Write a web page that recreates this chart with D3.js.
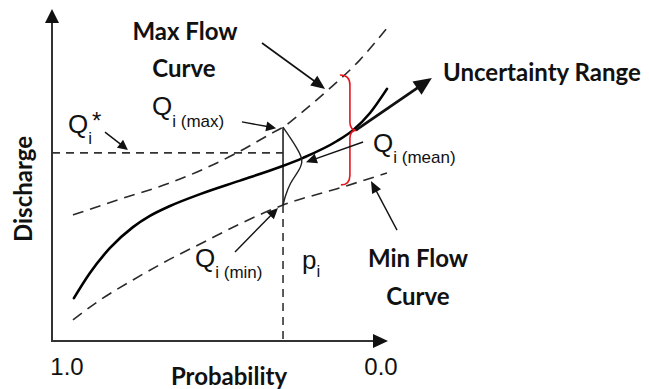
<!DOCTYPE html>
<html>
<head>
  <title>Flow Duration Uncertainty</title>
  <script src="https://d3js.org/d3.v7.min.js"></script>
  <style>
    body { margin: 0; background: #fff; }
    .bold { font-family: Lato, "Open Sans", sans-serif; font-weight: 700; fill: #111; }
    .qlab { font-family: "Liberation Sans", Arial, sans-serif; fill: #111; }
  </style>
</head>
<body>
  <div id="chart"></div>

  <script>
    // probability (1.0 on the left, 0.0 on the right) and relative discharge
    const probTicks = [1.0, 0.0];

    const meanP = [0.978, 0.927, 0.863, 0.790, 0.736, 0.672, 0.576, 0.449, 0.322, 0.248, 0.140, 0.089, 0.035, -0.019];
    const meanQ = [13.0, 20.6, 28.2, 34.5, 37.9, 40.9, 44.5, 48.6, 52.7, 55.5, 60.6, 63.9, 69.1, 76.4];

    const maxP = [0.981, 0.831, 0.672, 0.459, 0.347, 0.312, 0.258, 0.172, 0.067, -0.022];
    const maxQ = [38.2, 43.0, 47.9, 57.0, 63.0, 64.8, 68.8, 75.8, 85.2, 95.2];

    const minP = [0.981, 0.895, 0.790, 0.672, 0.576, 0.449, 0.312, 0.131, -0.019];
    const minQ = [6.4, 12.4, 18.5, 24.8, 29.4, 35.5, 41.2, 46.4, 50.9];

    // distribution of Q at p_i
    const pdfP = [0.312, 0.290, 0.258, 0.248, 0.264, 0.290, 0.306, 0.312];
    const pdfQ = [64.8, 61.8, 57.0, 54.2, 51.2, 47.9, 43.6, 41.2];

    const pI = 0.312;
    const qStar = 57.0;
    const qMax = 64.8;
    const qMin = 41.2;

    const width = 649, height = 389;

    const svg = d3.select("#chart")
      .append("svg")
      .attr("width", width)
      .attr("height", height);

    const x = d3.scaleLinear().domain([1, 0]).range([67, 381]);
    const y = d3.scaleLinear().domain([0, 100]).range([341, 11]);

    const pts = (ps, qs) => ps.map((p, i) => [x(p), y(qs[i])]);
    const line = d3.line().curve(d3.curveMonotoneX);

    function arrow(x1, y1, x2, y2, sw, len, half) {
      const a = Math.atan2(y2 - y1, x2 - x1);
      const bx = x2 - len * Math.cos(a), by = y2 - len * Math.sin(a);
      svg.append("line")
        .attr("x1", x1).attr("y1", y1).attr("x2", bx + Math.cos(a)).attr("y2", by + Math.sin(a))
        .attr("stroke", "#111").attr("stroke-width", sw);
      const px = -Math.sin(a) * half, py = Math.cos(a) * half;
      svg.append("polygon")
        .attr("points", [[x2, y2], [bx + px, by + py], [bx - px, by - py]].map(d => d.join(",")).join(" "))
        .attr("fill", "#111");
    }

    // axes
    const ox = 52, oy = y(0);
    svg.append("line").attr("x1", ox).attr("y1", oy).attr("x2", ox).attr("y2", 22)
      .attr("stroke", "#333").attr("stroke-width", 2);
    svg.append("polygon").attr("points", `${ox},9 ${ox - 7},23 ${ox + 7},23`).attr("fill", "#111");
    svg.append("line").attr("x1", ox - 1).attr("y1", oy).attr("x2", 374).attr("y2", oy)
      .attr("stroke", "#333").attr("stroke-width", 2);
    svg.append("polygon").attr("points", `388,${oy} 373,${oy - 7} 373,${oy + 7}`).attr("fill", "#111");

    svg.selectAll(".tick")
      .data(probTicks)
      .enter()
      .append("text")
      .attr("class", "qlab")
      .attr("x", d => x(d))
      .attr("y", 375)
      .attr("text-anchor", "middle")
      .style("font-size", "24px")
      .text(d => d.toFixed(1));

    svg.append("text").attr("class", "bold")
      .attr("x", 229).attr("y", 385)
      .attr("text-anchor", "middle")
      .style("font-size", "24px")
      .text("Probability");

    svg.append("text").attr("class", "bold")
      .attr("transform", "translate(32,189) rotate(-90)")
      .attr("text-anchor", "middle")
      .style("font-size", "24px")
      .text("Discharge");

    // reference lines at p_i and Q_i*
    svg.append("line")
      .attr("x1", ox).attr("x2", x(pI)).attr("y1", y(qStar)).attr("y2", y(qStar))
      .attr("stroke", "#333").attr("stroke-width", 1.6).attr("stroke-dasharray", "8,6");
    svg.append("line")
      .attr("x1", x(pI)).attr("x2", x(pI)).attr("y1", y(qMin)).attr("y2", oy)
      .attr("stroke", "#333").attr("stroke-width", 1.6).attr("stroke-dasharray", "8,6");
    svg.append("line")
      .attr("x1", x(pI)).attr("x2", x(pI)).attr("y1", y(qMax)).attr("y2", y(qMin))
      .attr("stroke", "#222").attr("stroke-width", 1.6);

    // curves
    svg.append("path").attr("d", line(pts(maxP, maxQ)))
      .attr("fill", "none").attr("stroke", "#2a2a2a").attr("stroke-width", 1.6).attr("stroke-dasharray", "11,7");
    svg.append("path").attr("d", line(pts(minP, minQ)))
      .attr("fill", "none").attr("stroke", "#2a2a2a").attr("stroke-width", 1.6).attr("stroke-dasharray", "11,7");
    svg.append("path").attr("d", line(pts(meanP, meanQ)))
      .attr("fill", "none").attr("stroke", "#000").attr("stroke-width", 2.6).attr("stroke-linecap", "round");
    svg.append("path").attr("d", d3.line().curve(d3.curveBasis)(pts(pdfP, pdfQ)))
      .attr("fill", "none").attr("stroke", "#222").attr("stroke-width", 1.4);

    // uncertainty brace
    const bx = x(0.099), bTop = y(80.6), bBot = y(47.3), bMid = y(63.9), bTip = x(0.076);
    svg.append("path")
      .attr("d", `M${bx - 10},${bTop} Q${bx},${bTop} ${bx},${bTop + 10} L${bx},${bMid - 8}
        Q${bx},${bMid} ${bTip},${bMid} Q${bx},${bMid} ${bx},${bMid + 8}
        L${bx},${bBot - 10} Q${bx},${bBot} ${bx - 9},${bBot}`)
      .attr("fill", "none").attr("stroke", "#e8141c").attr("stroke-width", 1.6);

    // annotation arrows
    arrow(x(0.379), y(90.3), x(0.178), y(76.4), 1.6, 14, 6);
    arrow(x(0.443), y(66.4), x(0.334), y(64.5), 1.4, 10, 5);
    arrow(x(0.879), y(63.3), x(0.806), y(57.9), 1.4, 10, 5);
    arrow(x(0.057), y(60.3), x(0.239), y(54.2), 1.4, 11, 5);
    arrow(x(0.465), y(27.0), x(0.328), y(40.3), 1.4, 11, 5);
    arrow(x(-0.051), y(33.6), x(0.032), y(48.5), 1.4, 12, 5);
    arrow(x(0.080), y(63.9), x(-0.162), y(79.7), 2.8, 18, 8);

    // bold labels
    const boldLabels = [
      ["Max Flow", 185, 40, "middle"],
      ["Curve", 184, 77, "middle"],
      ["Uncertainty Range", 443, 81, "start"],
      ["Min Flow", 418, 267, "middle"],
      ["Curve", 418, 305, "middle"]
    ];
    svg.selectAll(".blab")
      .data(boldLabels)
      .enter()
      .append("text")
      .attr("class", "bold")
      .attr("x", d => d[1]).attr("y", d => d[2])
      .attr("text-anchor", d => d[3])
      .style("font-size", "24px")
      .text(d => d[0]);

    // Q labels with subscripts
    function qLabel(main, sub, sx, sy, shift, sup) {
      const t = svg.append("text").attr("class", "qlab").attr("x", sx).attr("y", sy);
      t.append("tspan").style("font-size", "26px").text(main);
      t.append("tspan").style("font-size", "17px").attr("dy", shift).text(sub);
      if (sup) {
        t.append("tspan").style("font-size", "24px").attr("dy", -shift - 4).text(sup);
      }
    }
    qLabel("Q", "i", 68, 133, 11, "*");
    qLabel("Q", "i (max)", 152, 115, 12);
    qLabel("Q", "i (mean)", 373, 152, 11);
    qLabel("Q", "i (min)", 195, 267, 11);
    qLabel("p", "i", 302, 269, 8);
  </script>
</body>
</html>
